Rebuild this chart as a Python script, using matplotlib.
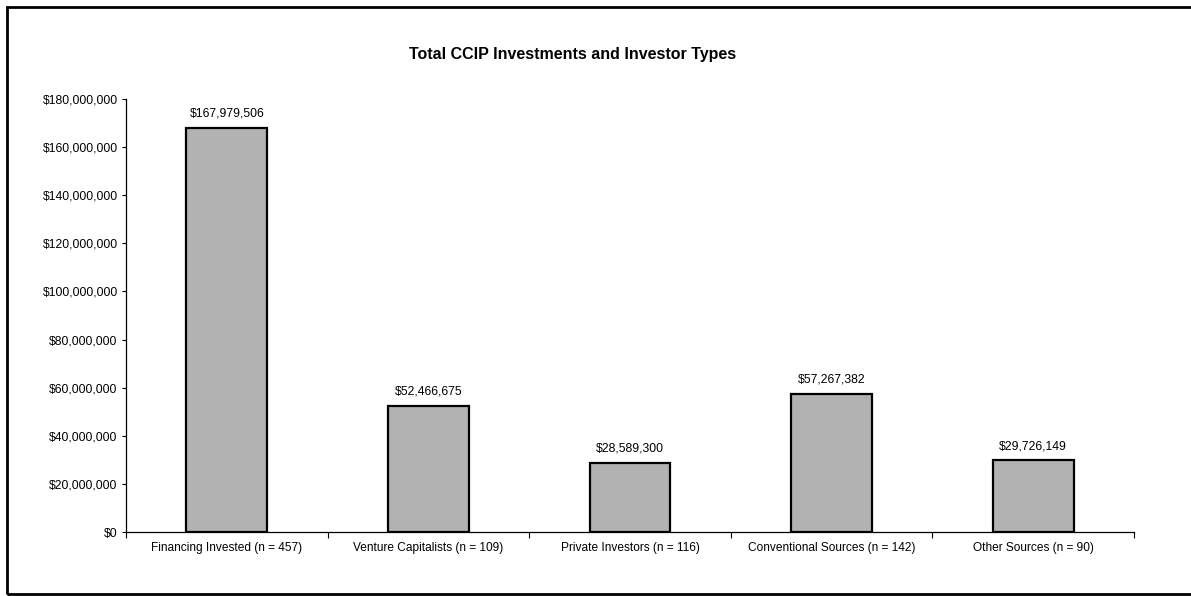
import numpy as np
import matplotlib.pyplot as plt
from matplotlib.patches import Rectangle
from matplotlib.ticker import FuncFormatter

plt.rcParams['font.family'] = ['Liberation Sans', 'DejaVu Sans']

# data
categories = ['Financing Invested (n = 457)', 'Venture Capitalists (n = 109)',
              'Private Investors (n = 116)', 'Conventional Sources (n = 142)',
              'Other Sources (n = 90)']
amounts = [167979506, 52466675, 28589300, 57267382, 29726149]
y_ticks = [0, 20e6, 40e6, 60e6, 80e6, 100e6, 120e6, 140e6, 160e6, 180e6]

fig = plt.figure(figsize=(11.91, 5.96), dpi=100)
# outer frame of the scanned figure
fig.patches.append(Rectangle((7/1191, 2/596), 1.2, 587/596, transform=fig.transFigure,
                             fill=False, edgecolor='black', linewidth=2.0))

ax = fig.add_axes([126/1191, 64/596, 1008/1191, 433/596])
x = np.arange(len(categories))
bars = ax.bar(x, amounts, width=0.4, color='#b2b2b2', edgecolor='black', linewidth=1.6)

for xi, v in zip(x, amounts):
    ax.annotate('${:,.0f}'.format(v), (xi, v), xytext=(0, 6), textcoords='offset points',
                ha='center', va='bottom', fontsize=8.8)

ax.set_xlim(-0.5, len(categories) - 0.5)
ax.set_ylim(0, 180e6)
ax.set_yticks(y_ticks)
ax.yaxis.set_major_formatter(FuncFormatter(lambda v, p: '${:,.0f}'.format(v)))
ax.set_xticks(x)
ax.set_xticklabels(categories)
ax.set_xticks(np.arange(len(categories) + 1) - 0.5, minor=True)
ax.tick_params(axis='x', which='major', length=0, labelsize=8.6, pad=7)
ax.tick_params(axis='x', which='minor', length=4, width=0.8)
ax.tick_params(axis='y', length=3, width=0.8, labelsize=8.7, pad=3)

for s in ['top', 'right']:
    ax.spines[s].set_visible(False)
ax.spines['left'].set_linewidth(0.9)
ax.spines['bottom'].set_linewidth(0.9)

fig.text(573/1191, 1 - 55/596, 'Total CCIP Investments and Investor Types',
         ha='center', va='center', fontsize=11.5, fontweight='bold')

fig.savefig('out.png', dpi=100)
